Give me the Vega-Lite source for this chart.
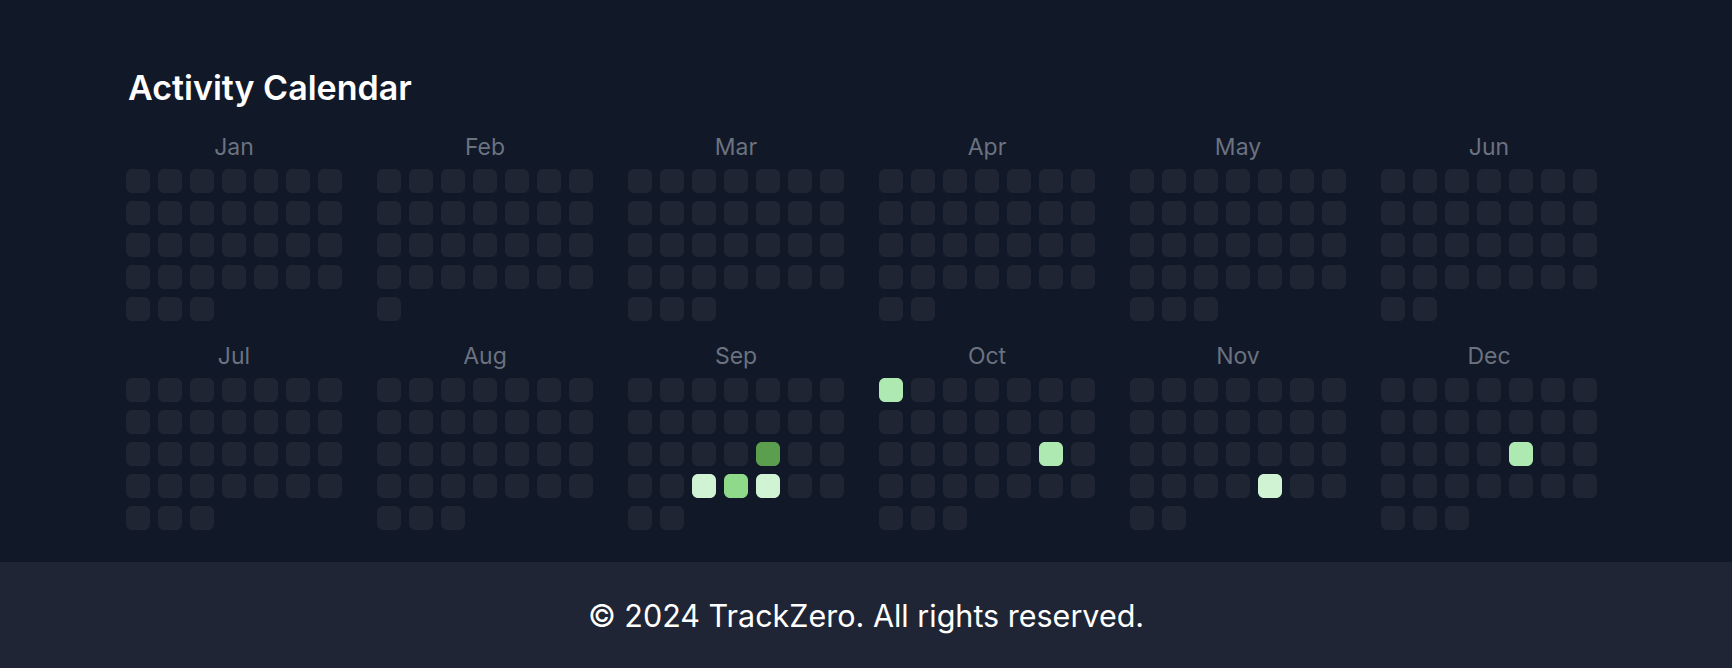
{
  "$schema": "https://vega.github.io/schema/vega-lite/v6.json",
  "background": "#111827",
  "padding": {"top": 73, "left": 0, "right": 0, "bottom": 0},
  "title": {"text": "Activity Calendar", "anchor": "start", "dx": 128, "fontSize": 34, "fontWeight": 600, "color": "#ffffff", "font": "Inter", "offset": 30},
  "config": {"view": {"stroke": null}, "font": "Inter"},
  "spacing": 32,
  "vconcat": [
    {
      "spacing": 0,
      "hconcat": [
        {
          "width": 126, "height": 10,
          "data": {"values": [{"k": 1}]},
          "mark": {"type": "point", "opacity": 0},
          "encoding": {}
        },
        {
          "data": {"name": "days"},
          "transform": [
            {"calculate": "(datum.d - 1) % 7", "as": "col"},
            {"calculate": "floor((datum.d - 1) / 7)", "as": "row"}
          ],
          "columns": 6,
          "spacing": {"column": 35, "row": 25},
          "facet": {
            "field": "m", "type": "nominal",
            "sort": ["Jan","Feb","Mar","Apr","May","Jun","Jul","Aug","Sep","Oct","Nov","Dec"],
            "title": null,
            "header": {"labelFontSize": 23, "labelColor": "#6b7280", "labelFont": "Inter", "labelPadding": 9}
          },
          "spec": {
            "width": 216, "height": 152,
            "mark": {"type": "rect", "cornerRadius": 6},
            "encoding": {
              "x": {"field": "col", "type": "ordinal", "scale": {"paddingInner": 0.25, "paddingOuter": 0}, "axis": null},
              "y": {"field": "row", "type": "ordinal", "scale": {"paddingInner": 0.25, "paddingOuter": 0}, "axis": null},
              "color": {"field": "v", "type": "ordinal", "legend": null,
                "scale": {"domain": [0, 1, 2, 3, 4], "range": ["#1f2533", "#d0f4d3", "#ade9b0", "#8ed98a", "#5b9e4d"]}}
            }
          }
        }
      ]
    },
    {
      "width": 1732, "height": 106,
      "view": {"fill": "#1f2535"},
      "data": {"values": [{"t": "© 2024 TrackZero. All rights reserved."}]},
      "mark": {"type": "text", "fontSize": 30.5, "color": "#ffffff", "font": "Inter", "baseline": "middle", "dy": 3},
      "encoding": {
        "x": {"field": "t", "type": "nominal", "axis": null},
        "y": {"field": "t", "type": "nominal", "axis": null},
        "text": {"field": "t"}
      }
    }
  ],
  "datasets": {
    "days": [
      {"m":"Jan","d":1,"v":0},{"m":"Jan","d":2,"v":0},{"m":"Jan","d":3,"v":0},{"m":"Jan","d":4,"v":0},{"m":"Jan","d":5,"v":0},{"m":"Jan","d":6,"v":0},{"m":"Jan","d":7,"v":0},{"m":"Jan","d":8,"v":0},{"m":"Jan","d":9,"v":0},{"m":"Jan","d":10,"v":0},{"m":"Jan","d":11,"v":0},{"m":"Jan","d":12,"v":0},{"m":"Jan","d":13,"v":0},{"m":"Jan","d":14,"v":0},{"m":"Jan","d":15,"v":0},{"m":"Jan","d":16,"v":0},{"m":"Jan","d":17,"v":0},{"m":"Jan","d":18,"v":0},{"m":"Jan","d":19,"v":0},{"m":"Jan","d":20,"v":0},{"m":"Jan","d":21,"v":0},{"m":"Jan","d":22,"v":0},{"m":"Jan","d":23,"v":0},{"m":"Jan","d":24,"v":0},{"m":"Jan","d":25,"v":0},{"m":"Jan","d":26,"v":0},{"m":"Jan","d":27,"v":0},{"m":"Jan","d":28,"v":0},{"m":"Jan","d":29,"v":0},{"m":"Jan","d":30,"v":0},{"m":"Jan","d":31,"v":0},
      {"m":"Feb","d":1,"v":0},{"m":"Feb","d":2,"v":0},{"m":"Feb","d":3,"v":0},{"m":"Feb","d":4,"v":0},{"m":"Feb","d":5,"v":0},{"m":"Feb","d":6,"v":0},{"m":"Feb","d":7,"v":0},{"m":"Feb","d":8,"v":0},{"m":"Feb","d":9,"v":0},{"m":"Feb","d":10,"v":0},{"m":"Feb","d":11,"v":0},{"m":"Feb","d":12,"v":0},{"m":"Feb","d":13,"v":0},{"m":"Feb","d":14,"v":0},{"m":"Feb","d":15,"v":0},{"m":"Feb","d":16,"v":0},{"m":"Feb","d":17,"v":0},{"m":"Feb","d":18,"v":0},{"m":"Feb","d":19,"v":0},{"m":"Feb","d":20,"v":0},{"m":"Feb","d":21,"v":0},{"m":"Feb","d":22,"v":0},{"m":"Feb","d":23,"v":0},{"m":"Feb","d":24,"v":0},{"m":"Feb","d":25,"v":0},{"m":"Feb","d":26,"v":0},{"m":"Feb","d":27,"v":0},{"m":"Feb","d":28,"v":0},{"m":"Feb","d":29,"v":0},
      {"m":"Mar","d":1,"v":0},{"m":"Mar","d":2,"v":0},{"m":"Mar","d":3,"v":0},{"m":"Mar","d":4,"v":0},{"m":"Mar","d":5,"v":0},{"m":"Mar","d":6,"v":0},{"m":"Mar","d":7,"v":0},{"m":"Mar","d":8,"v":0},{"m":"Mar","d":9,"v":0},{"m":"Mar","d":10,"v":0},{"m":"Mar","d":11,"v":0},{"m":"Mar","d":12,"v":0},{"m":"Mar","d":13,"v":0},{"m":"Mar","d":14,"v":0},{"m":"Mar","d":15,"v":0},{"m":"Mar","d":16,"v":0},{"m":"Mar","d":17,"v":0},{"m":"Mar","d":18,"v":0},{"m":"Mar","d":19,"v":0},{"m":"Mar","d":20,"v":0},{"m":"Mar","d":21,"v":0},{"m":"Mar","d":22,"v":0},{"m":"Mar","d":23,"v":0},{"m":"Mar","d":24,"v":0},{"m":"Mar","d":25,"v":0},{"m":"Mar","d":26,"v":0},{"m":"Mar","d":27,"v":0},{"m":"Mar","d":28,"v":0},{"m":"Mar","d":29,"v":0},{"m":"Mar","d":30,"v":0},{"m":"Mar","d":31,"v":0},
      {"m":"Apr","d":1,"v":0},{"m":"Apr","d":2,"v":0},{"m":"Apr","d":3,"v":0},{"m":"Apr","d":4,"v":0},{"m":"Apr","d":5,"v":0},{"m":"Apr","d":6,"v":0},{"m":"Apr","d":7,"v":0},{"m":"Apr","d":8,"v":0},{"m":"Apr","d":9,"v":0},{"m":"Apr","d":10,"v":0},{"m":"Apr","d":11,"v":0},{"m":"Apr","d":12,"v":0},{"m":"Apr","d":13,"v":0},{"m":"Apr","d":14,"v":0},{"m":"Apr","d":15,"v":0},{"m":"Apr","d":16,"v":0},{"m":"Apr","d":17,"v":0},{"m":"Apr","d":18,"v":0},{"m":"Apr","d":19,"v":0},{"m":"Apr","d":20,"v":0},{"m":"Apr","d":21,"v":0},{"m":"Apr","d":22,"v":0},{"m":"Apr","d":23,"v":0},{"m":"Apr","d":24,"v":0},{"m":"Apr","d":25,"v":0},{"m":"Apr","d":26,"v":0},{"m":"Apr","d":27,"v":0},{"m":"Apr","d":28,"v":0},{"m":"Apr","d":29,"v":0},{"m":"Apr","d":30,"v":0},
      {"m":"May","d":1,"v":0},{"m":"May","d":2,"v":0},{"m":"May","d":3,"v":0},{"m":"May","d":4,"v":0},{"m":"May","d":5,"v":0},{"m":"May","d":6,"v":0},{"m":"May","d":7,"v":0},{"m":"May","d":8,"v":0},{"m":"May","d":9,"v":0},{"m":"May","d":10,"v":0},{"m":"May","d":11,"v":0},{"m":"May","d":12,"v":0},{"m":"May","d":13,"v":0},{"m":"May","d":14,"v":0},{"m":"May","d":15,"v":0},{"m":"May","d":16,"v":0},{"m":"May","d":17,"v":0},{"m":"May","d":18,"v":0},{"m":"May","d":19,"v":0},{"m":"May","d":20,"v":0},{"m":"May","d":21,"v":0},{"m":"May","d":22,"v":0},{"m":"May","d":23,"v":0},{"m":"May","d":24,"v":0},{"m":"May","d":25,"v":0},{"m":"May","d":26,"v":0},{"m":"May","d":27,"v":0},{"m":"May","d":28,"v":0},{"m":"May","d":29,"v":0},{"m":"May","d":30,"v":0},{"m":"May","d":31,"v":0},
      {"m":"Jun","d":1,"v":0},{"m":"Jun","d":2,"v":0},{"m":"Jun","d":3,"v":0},{"m":"Jun","d":4,"v":0},{"m":"Jun","d":5,"v":0},{"m":"Jun","d":6,"v":0},{"m":"Jun","d":7,"v":0},{"m":"Jun","d":8,"v":0},{"m":"Jun","d":9,"v":0},{"m":"Jun","d":10,"v":0},{"m":"Jun","d":11,"v":0},{"m":"Jun","d":12,"v":0},{"m":"Jun","d":13,"v":0},{"m":"Jun","d":14,"v":0},{"m":"Jun","d":15,"v":0},{"m":"Jun","d":16,"v":0},{"m":"Jun","d":17,"v":0},{"m":"Jun","d":18,"v":0},{"m":"Jun","d":19,"v":0},{"m":"Jun","d":20,"v":0},{"m":"Jun","d":21,"v":0},{"m":"Jun","d":22,"v":0},{"m":"Jun","d":23,"v":0},{"m":"Jun","d":24,"v":0},{"m":"Jun","d":25,"v":0},{"m":"Jun","d":26,"v":0},{"m":"Jun","d":27,"v":0},{"m":"Jun","d":28,"v":0},{"m":"Jun","d":29,"v":0},{"m":"Jun","d":30,"v":0},
      {"m":"Jul","d":1,"v":0},{"m":"Jul","d":2,"v":0},{"m":"Jul","d":3,"v":0},{"m":"Jul","d":4,"v":0},{"m":"Jul","d":5,"v":0},{"m":"Jul","d":6,"v":0},{"m":"Jul","d":7,"v":0},{"m":"Jul","d":8,"v":0},{"m":"Jul","d":9,"v":0},{"m":"Jul","d":10,"v":0},{"m":"Jul","d":11,"v":0},{"m":"Jul","d":12,"v":0},{"m":"Jul","d":13,"v":0},{"m":"Jul","d":14,"v":0},{"m":"Jul","d":15,"v":0},{"m":"Jul","d":16,"v":0},{"m":"Jul","d":17,"v":0},{"m":"Jul","d":18,"v":0},{"m":"Jul","d":19,"v":0},{"m":"Jul","d":20,"v":0},{"m":"Jul","d":21,"v":0},{"m":"Jul","d":22,"v":0},{"m":"Jul","d":23,"v":0},{"m":"Jul","d":24,"v":0},{"m":"Jul","d":25,"v":0},{"m":"Jul","d":26,"v":0},{"m":"Jul","d":27,"v":0},{"m":"Jul","d":28,"v":0},{"m":"Jul","d":29,"v":0},{"m":"Jul","d":30,"v":0},{"m":"Jul","d":31,"v":0},
      {"m":"Aug","d":1,"v":0},{"m":"Aug","d":2,"v":0},{"m":"Aug","d":3,"v":0},{"m":"Aug","d":4,"v":0},{"m":"Aug","d":5,"v":0},{"m":"Aug","d":6,"v":0},{"m":"Aug","d":7,"v":0},{"m":"Aug","d":8,"v":0},{"m":"Aug","d":9,"v":0},{"m":"Aug","d":10,"v":0},{"m":"Aug","d":11,"v":0},{"m":"Aug","d":12,"v":0},{"m":"Aug","d":13,"v":0},{"m":"Aug","d":14,"v":0},{"m":"Aug","d":15,"v":0},{"m":"Aug","d":16,"v":0},{"m":"Aug","d":17,"v":0},{"m":"Aug","d":18,"v":0},{"m":"Aug","d":19,"v":0},{"m":"Aug","d":20,"v":0},{"m":"Aug","d":21,"v":0},{"m":"Aug","d":22,"v":0},{"m":"Aug","d":23,"v":0},{"m":"Aug","d":24,"v":0},{"m":"Aug","d":25,"v":0},{"m":"Aug","d":26,"v":0},{"m":"Aug","d":27,"v":0},{"m":"Aug","d":28,"v":0},{"m":"Aug","d":29,"v":0},{"m":"Aug","d":30,"v":0},{"m":"Aug","d":31,"v":0},
      {"m":"Sep","d":1,"v":0},{"m":"Sep","d":2,"v":0},{"m":"Sep","d":3,"v":0},{"m":"Sep","d":4,"v":0},{"m":"Sep","d":5,"v":0},{"m":"Sep","d":6,"v":0},{"m":"Sep","d":7,"v":0},{"m":"Sep","d":8,"v":0},{"m":"Sep","d":9,"v":0},{"m":"Sep","d":10,"v":0},{"m":"Sep","d":11,"v":0},{"m":"Sep","d":12,"v":0},{"m":"Sep","d":13,"v":0},{"m":"Sep","d":14,"v":0},{"m":"Sep","d":15,"v":0},{"m":"Sep","d":16,"v":0},{"m":"Sep","d":17,"v":0},{"m":"Sep","d":18,"v":0},{"m":"Sep","d":19,"v":4},{"m":"Sep","d":20,"v":0},{"m":"Sep","d":21,"v":0},{"m":"Sep","d":22,"v":0},{"m":"Sep","d":23,"v":0},{"m":"Sep","d":24,"v":1},{"m":"Sep","d":25,"v":3},{"m":"Sep","d":26,"v":1},{"m":"Sep","d":27,"v":0},{"m":"Sep","d":28,"v":0},{"m":"Sep","d":29,"v":0},{"m":"Sep","d":30,"v":0},
      {"m":"Oct","d":1,"v":2},{"m":"Oct","d":2,"v":0},{"m":"Oct","d":3,"v":0},{"m":"Oct","d":4,"v":0},{"m":"Oct","d":5,"v":0},{"m":"Oct","d":6,"v":0},{"m":"Oct","d":7,"v":0},{"m":"Oct","d":8,"v":0},{"m":"Oct","d":9,"v":0},{"m":"Oct","d":10,"v":0},{"m":"Oct","d":11,"v":0},{"m":"Oct","d":12,"v":0},{"m":"Oct","d":13,"v":0},{"m":"Oct","d":14,"v":0},{"m":"Oct","d":15,"v":0},{"m":"Oct","d":16,"v":0},{"m":"Oct","d":17,"v":0},{"m":"Oct","d":18,"v":0},{"m":"Oct","d":19,"v":0},{"m":"Oct","d":20,"v":2},{"m":"Oct","d":21,"v":0},{"m":"Oct","d":22,"v":0},{"m":"Oct","d":23,"v":0},{"m":"Oct","d":24,"v":0},{"m":"Oct","d":25,"v":0},{"m":"Oct","d":26,"v":0},{"m":"Oct","d":27,"v":0},{"m":"Oct","d":28,"v":0},{"m":"Oct","d":29,"v":0},{"m":"Oct","d":30,"v":0},{"m":"Oct","d":31,"v":0},
      {"m":"Nov","d":1,"v":0},{"m":"Nov","d":2,"v":0},{"m":"Nov","d":3,"v":0},{"m":"Nov","d":4,"v":0},{"m":"Nov","d":5,"v":0},{"m":"Nov","d":6,"v":0},{"m":"Nov","d":7,"v":0},{"m":"Nov","d":8,"v":0},{"m":"Nov","d":9,"v":0},{"m":"Nov","d":10,"v":0},{"m":"Nov","d":11,"v":0},{"m":"Nov","d":12,"v":0},{"m":"Nov","d":13,"v":0},{"m":"Nov","d":14,"v":0},{"m":"Nov","d":15,"v":0},{"m":"Nov","d":16,"v":0},{"m":"Nov","d":17,"v":0},{"m":"Nov","d":18,"v":0},{"m":"Nov","d":19,"v":0},{"m":"Nov","d":20,"v":0},{"m":"Nov","d":21,"v":0},{"m":"Nov","d":22,"v":0},{"m":"Nov","d":23,"v":0},{"m":"Nov","d":24,"v":0},{"m":"Nov","d":25,"v":0},{"m":"Nov","d":26,"v":1},{"m":"Nov","d":27,"v":0},{"m":"Nov","d":28,"v":0},{"m":"Nov","d":29,"v":0},{"m":"Nov","d":30,"v":0},
      {"m":"Dec","d":1,"v":0},{"m":"Dec","d":2,"v":0},{"m":"Dec","d":3,"v":0},{"m":"Dec","d":4,"v":0},{"m":"Dec","d":5,"v":0},{"m":"Dec","d":6,"v":0},{"m":"Dec","d":7,"v":0},{"m":"Dec","d":8,"v":0},{"m":"Dec","d":9,"v":0},{"m":"Dec","d":10,"v":0},{"m":"Dec","d":11,"v":0},{"m":"Dec","d":12,"v":0},{"m":"Dec","d":13,"v":0},{"m":"Dec","d":14,"v":0},{"m":"Dec","d":15,"v":0},{"m":"Dec","d":16,"v":0},{"m":"Dec","d":17,"v":0},{"m":"Dec","d":18,"v":0},{"m":"Dec","d":19,"v":2},{"m":"Dec","d":20,"v":0},{"m":"Dec","d":21,"v":0},{"m":"Dec","d":22,"v":0},{"m":"Dec","d":23,"v":0},{"m":"Dec","d":24,"v":0},{"m":"Dec","d":25,"v":0},{"m":"Dec","d":26,"v":0},{"m":"Dec","d":27,"v":0},{"m":"Dec","d":28,"v":0},{"m":"Dec","d":29,"v":0},{"m":"Dec","d":30,"v":0},{"m":"Dec","d":31,"v":0}
    ]
  }
}
